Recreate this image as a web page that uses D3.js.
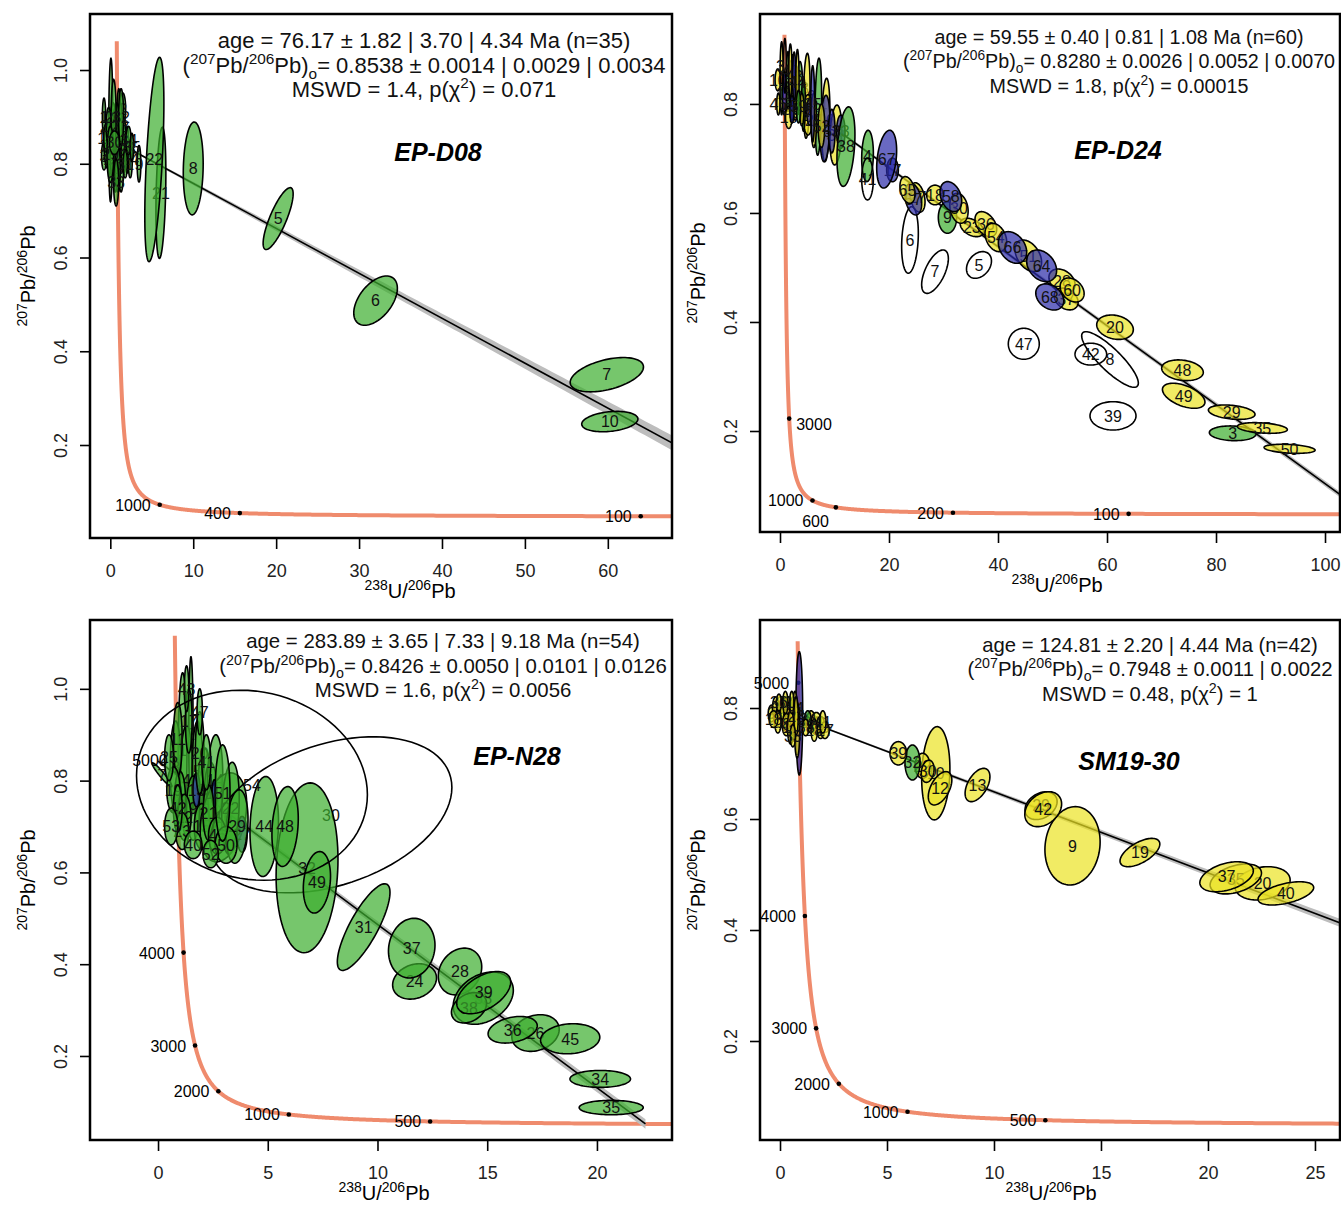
<!DOCTYPE html>
<html>
<head>
<meta charset="utf-8">
<script src="https://cdn.jsdelivr.net/npm/d3@7"></script>
<style>
body { margin: 0; background: #fff; }
svg { font-family: "Liberation Sans", Arial, sans-serif; }
</style>
</head>
<body>
<svg id="chart" width="1341" height="1209"></svg>
<script>
// decay constants (1/yr) and 238U/235U
const lambda238 = 1.55125e-10, lambda235 = 9.8485e-10, u238u235 = 137.818;

// fit results printed in each panel
const sampleNames = ['EP-D08', 'EP-D24', 'EP-N28', 'SM19-30'];
const ages = [76.17, 59.55, 283.89, 124.81];
const ageErrors = [[1.82, 3.70, 4.34], [0.40, 0.81, 1.08], [3.65, 7.33, 9.18], [2.20, 4.44]];
const intercepts = [0.8538, 0.8280, 0.8426, 0.7948];
const interceptErrors = [[0.0014, 0.0029, 0.0034], [0.0026, 0.0052, 0.0070], [0.0050, 0.0101, 0.0126], [0.0011, 0.0022]];
const nSpots = [35, 60, 54, 42];
const mswd = ['1.4', '1.8', '1.6', '0.48'];
const pChi2 = ['0.071', '0.00015', '0.0056', '1'];

// axes
const xDomains = [[-2.45, 67.74], [-3.67, 102.75], [-3.10, 23.42], [-0.935, 26.17]];
const yDomains = [[0.0016, 1.1195], [0.0147, 0.965], [0.0169, 1.150], [0.0216, 0.9586]];
const xTicks = [[0, 10, 20, 30, 40, 50, 60], [0, 20, 40, 60, 80, 100], [0, 5, 10, 15, 20], [0, 5, 10, 15, 20, 25]];
const yTicks = [[0.2, 0.4, 0.6, 0.8, 1.0], [0.2, 0.4, 0.6, 0.8], [0.2, 0.4, 0.6, 0.8, 1.0], [0.2, 0.4, 0.6, 0.8]];

// concordia age marks (Ma), where the label sits, and the oldest age drawn
const markAges = [[1000, 400, 100], [3000, 1000, 600, 200, 100], [5000, 4000, 3000, 2000, 1000, 500], [5000, 4000, 3000, 2000, 1000, 500]];
const markSides = [['l', 'l', 'l'], ['r', 'l', 'b', 'l', 'l'], ['l', 'l', 'l', 'l', 'l', 'l'], ['l', 'l', 'l', 'l', 'l', 'l']];
const concordiaTop = [5320, 5130, 5390, 5120];

// spots: [label, 238U/206Pb, 207Pb/206Pb, s(x), s(y), rho, group]
const d08Spots = [
  ['1', -0.76, 0.90, 0.2, 0.04, 0, 'g'], ['2', 1.5, 0.917, 0.35, 0.034, 0, 'g'],
  ['3', -0.76, 0.817, 0.3, 0.03, 0, 'g'], ['4', 0.05, 0.872, 0.25, 0.153, 0.1, 'g'],
  ['5', 20.24, 0.683, 1.81, 0.066, 0.8, 'g'], ['6', 31.99, 0.508, 2.63, 0.0526, 0.5, 'g'],
  ['7', 59.88, 0.350, 4.42, 0.0366, 0.45, 'g'], ['8', 10.0, 0.790, 1.2, 0.099, 0.1, 'g'],
  ['9', 3.46, 0.80, 0.22, 0.039, 0, 'g'], ['10', 60.24, 0.25, 3.39, 0.0217, 0.25, 'g'],
  ['11', -0.3, 0.84, 0.45, 0.05, 0, 'g'], ['12', 0.3, 0.86, 0.4, 0.07, 0.1, 'g'],
  ['13', 0.6, 0.83, 0.35, 0.09, 0, 'g'], ['14', 1.0, 0.85, 0.3, 0.11, 0.1, 'g'],
  ['15', 1.3, 0.82, 0.35, 0.08, 0, 'g'], ['16', -0.5, 0.855, 0.3, 0.03, 0, 'g'],
  ['17', 0.2, 0.81, 0.5, 0.04, 0, 'g'], ['18', 0.8, 0.87, 0.25, 0.06, 0, 'g'],
  ['19', 0.3, 0.819, 0.3, 0.05, 0, 'g'], ['20', 1.6, 0.84, 0.3, 0.06, 0, 'g'],
  ['21', 6.1, 0.738, 0.6, 0.14, 0.3, 'g'], ['22', 5.31, 0.809, 1.15, 0.218, 0.55, 'g'],
  ['23', 2.0, 0.83, 0.25, 0.05, 0, 'g'], ['24', 2.4, 0.81, 0.25, 0.04, 0, 'g'],
  ['25', -0.2, 0.88, 0.3, 0.04, 0, 'g'], ['26', 0.4, 0.90, 0.3, 0.08, 0, 'g'],
  ['27', 0.9, 0.79, 0.3, 0.05, 0, 'g'], ['28', 1.2, 0.88, 0.25, 0.05, 0, 'g'],
  ['29', 0.0, 0.82, 0.4, 0.06, 0, 'g'], ['30', 0.5, 0.845, 0.6, 0.025, 0, 'g'],
  ['31', 1.8, 0.80, 0.25, 0.03, 0, 'g'], ['32', 1.3, 0.90, 0.3, 0.06, 0, 'g'],
  ['33', 0.7, 0.76, 0.3, 0.05, 0, 'g'], ['34', 2.2, 0.85, 0.3, 0.03, 0, 'g'],
  ['35', 2.6, 0.835, 0.2, 0.03, 0, 'g']
];
const d24Spots = [
  ['1', 0.3, 0.847, 0.3, 0.067, 0, 'y'], ['2', 1.47, 0.841, 0.3, 0.055, 0, 'g'],
  ['3', 83.06, 0.1958, 4.28, 0.0135, -0.1, 'g'], ['4', 16.06, 0.7046, 1.07, 0.047, 0.1, 'g'],
  ['5', 36.51, 0.5046, 2.29, 0.0245, 0.3, 'w'], ['6', 23.85, 0.5505, 1.53, 0.061, 0.2, 'w'],
  ['7', 28.44, 0.4923, 2.45, 0.0398, 0.6, 'w'], ['8', 60.55, 0.3312, 5.2, 0.051, -0.85, 'w'],
  ['9', 30.73, 0.5917, 1.68, 0.029, 0, 'g'], ['10', -0.4, 0.844, 0.5, 0.02, 0, 'y'],
  ['11', 0.8, 0.82, 0.4, 0.04, 0, 'b'], ['12', 2.3, 0.83, 0.35, 0.06, 0, 'y'],
  ['13', 3.67, 0.829, 0.5, 0.049, 0, 'g'], ['14', 2.8, 0.80, 0.45, 0.03, 0, 'y'],
  ['15', 1.6, 0.775, 0.6, 0.02, 0, 'y'], ['16', 4.9, 0.815, 0.61, 0.078, 0.2, 'y'],
  ['17', 20.64, 0.679, 1.07, 0.0217, 0, 'b'], ['18', 28.44, 0.633, 1.53, 0.018, 0, 'y'],
  ['19', 5.14, 0.78, 0.9, 0.037, 0, 'y'], ['20', 61.47, 0.3904, 3.36, 0.0224, -0.2, 'y'],
  ['21', 5.5, 0.786, 0.6, 0.025, 0, 'b'], ['22', 4.3, 0.80, 0.35, 0.05, 0, 'g'],
  ['23', 35.2, 0.5734, 2.14, 0.0169, -0.4, 'y'], ['24', 7.03, 0.795, 0.61, 0.089, 0.2, 'g'],
  ['25', 6.2, 0.77, 0.5, 0.05, 0, 'y'], ['26', 8.4, 0.7706, 0.76, 0.0765, 0.2, 'y'],
  ['27', 25.23, 0.6284, 1.38, 0.027, -0.3, 'y'], ['28', 51.74, 0.4752, 2.4, 0.022, -0.3, 'y'],
  ['29', 82.88, 0.2345, 4.28, 0.0132, -0.3, 'y'], ['30', 32.84, 0.6086, 1.68, 0.0275, -0.2, 'y'],
  ['31', 8.26, 0.755, 0.9, 0.061, 0.2, 'b'], ['32', 10.24, 0.743, 1.07, 0.055, 0.2, 'y'],
  ['33', 11.16, 0.749, 0.77, 0.0306, 0, 'b'], ['34', 0.9, 0.87, 0.25, 0.05, 0, 'w'],
  ['35', 88.5, 0.2055, 4.59, 0.0098, -0.3, 'y'], ['36', 37.77, 0.5794, 1.99, 0.023, -0.4, 'y'],
  ['37', 52.5, 0.4422, 2.2, 0.02, -0.3, 'y'], ['38', 12.1, 0.7217, 1.65, 0.073, 0.3, 'g'],
  ['39', 61.1, 0.2278, 4.22, 0.026, 0, 'w'], ['40', 1.9, 0.86, 0.3, 0.05, 0, 'y'],
  ['41', 16.06, 0.6624, 1.07, 0.0385, 0, 'w'], ['42', 57.03, 0.341, 2.9, 0.02, 0, 'w'],
  ['43', 2.6, 0.85, 0.3, 0.045, 0, 'b'], ['44', 3.2, 0.84, 0.3, 0.06, 0, 'y'],
  ['45', 6.0, 0.80, 0.35, 0.07, 0, 'b'], ['46', -0.3, 0.80, 0.3, 0.02, 0, 'y'],
  ['47', 44.73, 0.36, 2.84, 0.0284, 0, 'w'], ['48', 73.85, 0.3114, 3.82, 0.019, -0.2, 'y'],
  ['49', 74.07, 0.2646, 3.9, 0.023, -0.5, 'y'], ['50', 93.5, 0.1673, 4.68, 0.0083, -0.3, 'y'],
  ['51', 45.56, 0.5215, 2.44, 0.029, -0.4, 'y'], ['52', 7.6, 0.76, 0.6, 0.04, 0, 'y'],
  ['53', 9.5, 0.75, 0.6, 0.04, 0, 'b'], ['54', 39.6, 0.555, 1.99, 0.026, -0.3, 'y'],
  ['55', 4.0, 0.79, 0.4, 0.03, 0, 'y'], ['56', 2.2, 0.79, 0.4, 0.025, 0, 'b'],
  ['57', 24.46, 0.6253, 1.53, 0.029, -0.3, 'b'], ['58', 31.35, 0.630, 1.99, 0.0275, -0.3, 'b'],
  ['59', 3.4, 0.795, 0.4, 0.03, 0, 'g'], ['60', 53.6, 0.4587, 2.2, 0.022, -0.3, 'y'],
  ['64', 48.0, 0.503, 2.75, 0.029, -0.3, 'b'], ['65', 23.39, 0.6422, 1.38, 0.0245, -0.3, 'y'],
  ['66', 42.66, 0.5367, 2.6, 0.029, -0.3, 'b'], ['67', 19.57, 0.6987, 1.83, 0.053, 0.3, 'b'],
  ['68', 49.5, 0.4459, 2.57, 0.024, -0.3, 'b']
];
const n28Spots = [
  ['1', 1.12, 0.867, 0.2, 0.168, 0, 'g'], ['2', 1.5, 0.90, 0.1, 0.17, 0, 'g'],
  ['3', 0.8, 0.83, 0.25, 0.1, 0, 'g'], ['4', 1.3, 0.80, 0.3, 0.12, 0, 'g'],
  ['5', 1.8, 0.82, 0.25, 0.11, 0, 'g'], ['6', 2.1, 0.78, 0.3, 0.09, 0.1, 'g'],
  ['7', 0.18, 0.8126, 0.45, 0.026, -0.95, 'g'], ['8', 1.0, 0.76, 0.25, 0.06, 0, 'g'],
  ['9', 1.6, 0.74, 0.3, 0.07, 0, 'g'], ['10', 2.4, 0.76, 0.3, 0.08, 0, 'g'],
  ['11', 0.9, 0.89, 0.2, 0.08, 0, 'g'], ['12', 1.2, 0.72, 0.3, 0.05, 0, 'g'],
  ['13', 1.75, 0.78, 0.16, 0.037, 0, 'b'], ['14', 2.6, 0.80, 0.35, 0.1, 0.1, 'g'],
  ['15', 2.0, 0.70, 0.35, 0.05, 0, 'g'], ['16', 2.98, 0.72, 1.06, 0.097, 0.3, 'g'],
  ['17', 1.4, 0.93, 0.15, 0.07, 0, 'g'], ['18', 2.57, 0.772, 0.11, 0.03, 0, 'b'],
  ['19', 0.7, 0.78, 0.3, 0.05, 0, 'g'], ['20', 1.9, 0.86, 0.2, 0.09, 0, 'g'],
  ['21', 2.3, 0.73, 0.25, 0.06, 0, 'g'], ['22', 3.3, 0.74, 0.4, 0.1, 0.2, 'g'],
  ['23', 1.1, 0.69, 0.3, 0.04, 0, 'g'], ['24', 11.69, 0.3624, 1.0, 0.0385, 0.2, 'g'],
  ['25', 0.5, 0.85, 0.2, 0.05, 0, 'g'], ['26', 17.2, 0.25, 1.08, 0.04, 0.2, 'g'],
  ['27', 3.83, 0.683, 0.23, 0.039, 0, 'b'], ['28', 13.76, 0.384, 0.99, 0.051, 0.2, 'g'],
  ['29', 3.6, 0.70, 0.5, 0.08, 0.2, 'g'], ['30', 7.88, 0.7255, 5.51, 0.17, 0.35, 'w'],
  ['31', 9.37, 0.4808, 1.2, 0.0944, 0.8, 'g'], ['32', 6.79, 0.61, 1.41, 0.185, 0.1, 'g'],
  ['33', 14.82, 0.326, 1.37, 0.057, 0.3, 'g'], ['34', 20.15, 0.15, 1.38, 0.0185, 0, 'g'],
  ['35', 20.65, 0.0876, 1.46, 0.0157, 0, 'g'], ['36', 16.16, 0.2571, 1.12, 0.029, 0.3, 'g'],
  ['37', 11.56, 0.435, 1.06, 0.065, 0.1, 'g'], ['38', 14.17, 0.305, 0.8, 0.033, 0.3, 'g'],
  ['39', 14.84, 0.338, 1.23, 0.046, 0.5, 'g'], ['40', 1.6, 0.66, 0.4, 0.03, 0, 'g'],
  ['41', 2.2, 0.84, 0.2, 0.06, 0, 'g'], ['42', 0.9, 0.74, 0.2, 0.05, 0, 'g'],
  ['43', 1.3, 1.0, 0.1, 0.05, 0, 'g'], ['44', 4.84, 0.70, 0.65, 0.109, 0.1, 'g'],
  ['45', 18.78, 0.2375, 1.35, 0.0327, 0.1, 'g'], ['46', 2.7, 0.68, 0.4, 0.04, 0, 'g'],
  ['47', 1.9, 0.95, 0.12, 0.05, 0, 'g'], ['48', 5.79, 0.70, 0.6, 0.087, 0.2, 'g'],
  ['49', 7.24, 0.5784, 0.62, 0.067, 0.2, 'g'], ['50', 3.1, 0.66, 0.5, 0.04, 0, 'g'],
  ['51', 2.94, 0.773, 0.34, 0.105, 0, 'g'], ['52', 2.4, 0.64, 0.35, 0.03, 0, 'g'],
  ['53', 0.6, 0.70, 0.3, 0.04, 0, 'g'], ['54', 4.28, 0.79, 5.26, 0.207, -0.1, 'w']
];
const sm1930Spots = [
  ['1', 0.9, 0.7905, 0.16, 0.111, 0, 'b'], ['2', -0.4, 0.79, 0.15, 0.015, 0, 'y'],
  ['3', -0.2, 0.80, 0.15, 0.02, 0, 'y'], ['4', 0.0, 0.785, 0.2, 0.02, 0, 'y'],
  ['5', 0.2, 0.79, 0.15, 0.03, 0, 'y'], ['6', 0.4, 0.795, 0.15, 0.025, 0, 'y'],
  ['7', 0.6, 0.78, 0.15, 0.04, 0, 'y'], ['8', 0.3, 0.77, 0.2, 0.02, 0, 'y'],
  ['9', 13.67, 0.5517, 1.29, 0.0706, 0.1, 'y'], ['10', 7.28, 0.6824, 0.66, 0.084, 0.1, 'y'],
  ['11', -0.1, 0.775, 0.15, 0.02, 0, 'y'], ['12', 7.48, 0.6553, 0.55, 0.03, 0.5, 'y'],
  ['13', 9.23, 0.6613, 0.58, 0.030, 0.5, 'y'], ['14', 0.7, 0.80, 0.1, 0.03, 0, 'y'],
  ['15', 0.1, 0.80, 0.1, 0.02, 0, 'y'], ['16', 0.5, 0.765, 0.15, 0.03, 0, 'y'],
  ['17', 0.8, 0.76, 0.12, 0.05, 0, 'y'], ['18', -0.3, 0.78, 0.2, 0.015, 0, 'y'],
  ['19', 16.82, 0.5396, 0.93, 0.0255, 0.6, 'y'], ['20', 22.55, 0.4841, 1.29, 0.03, 0.2, 'y'],
  ['21', 0.55, 0.81, 0.1, 0.02, 0, 'y'], ['22', 6.66, 0.6959, 0.35, 0.0225, 0, 'y'],
  ['23', 0.75, 0.785, 0.1, 0.035, 0, 'y'], ['24', 1.45, 0.775, 0.2, 0.02, 0, 'y'],
  ['25', 1.7, 0.772, 0.25, 0.02, 0, 'y'], ['26', 1.9, 0.765, 0.2, 0.02, 0, 'y'],
  ['27', 2.1, 0.76, 0.2, 0.015, 0, 'y'], ['28', 1.6, 0.76, 0.15, 0.02, 0, 'y'],
  ['29', 12.2, 0.624, 0.75, 0.025, 0.3, 'y'], ['30', 6.9, 0.686, 0.3, 0.02, 0.2, 'y'],
  ['31', 0.25, 0.81, 0.12, 0.02, 0, 'y'], ['32', 6.19, 0.7018, 0.35, 0.0315, 0, 'g'],
  ['33', 0.6, 0.75, 0.12, 0.02, 0, 'y'], ['34', 1.3, 0.78, 0.15, 0.015, 0, 'g'],
  ['35', 21.3, 0.492, 1.2, 0.027, 0.4, 'y'], ['36', -0.05, 0.81, 0.12, 0.015, 0, 'y'],
  ['37', 20.87, 0.496, 1.25, 0.027, 0.4, 'y'], ['38', 1.2, 0.765, 0.15, 0.015, 0, 'y'],
  ['39', 5.53, 0.7184, 0.39, 0.021, 0, 'y'], ['40', 23.64, 0.466, 1.3, 0.021, 0.5, 'y'],
  ['41', 2.0, 0.775, 0.15, 0.02, 0, 'y'], ['42', 12.3, 0.6177, 0.86, 0.0315, 0.3, 'y']
];
const spotSets = [d08Spots, d24Spots, n28Spots, sm1930Spots];
const fills = { g: '#3cae2e', y: '#ebe322', b: '#2a2aa8', w: 'none' };

// page layout (pixels)
const boxes = [[90, 14, 672, 538], [760, 14, 1340, 532], [90, 620, 672, 1140], [760, 620, 1340, 1140]];
const infoX = [424, 1119, 443, 1150];
const infoSize = [22, 19.7, 20.4, 20.3];
const infoBase = [[48, 73, 97], [44, 68, 93], [648, 673, 697], [652, 676, 701]];
const titlePos = [[438, 161], [1118, 159], [517, 765], [1129, 770]];
const xTitleX = [410, 1057, 384, 1051];

function tw(t) {
  const e8 = Math.exp(lambda238 * t * 1e6) - 1, e5 = Math.exp(lambda235 * t * 1e6) - 1;
  return [1 / e8, e5 / e8 / u238u235];
}

// text with super/subscripts: parts are [string, 'n' | 'sup' | 'sub']
function rich(sel, parts, big, small) {
  let off = 0;
  parts.forEach(([s, k]) => {
    const target = k === 'sup' ? -big * 0.4 : k === 'sub' ? big * 0.25 : 0;
    sel.append('tspan').text(s).attr('font-size', k === 'n' ? big : small).attr('dy', target - off);
    off = target;
  });
}

const svg = d3.select('#chart');
const defs = svg.append('defs');

boxes.forEach((b, i) => {
  const [l, t, r, btm] = b;
  const x = d3.scaleLinear().domain(xDomains[i]).range([l, r]);
  const y = d3.scaleLinear().domain(yDomains[i]).range([btm, t]);
  const g = svg.append('g');

  defs.append('clipPath').attr('id', 'clip' + i)
    .append('rect').attr('x', l).attr('y', t).attr('width', r - l).attr('height', btm - t);
  const plot = g.append('g').attr('clip-path', `url(#clip${i})`);

  // concordia
  const tStart = Math.log(1 + 1 / xDomains[i][1]) / lambda238 / 1e6 * 0.97;
  const tAges = d3.range(500).map(k => tStart * Math.pow(concordiaTop[i] / tStart, k / 499));
  plot.append('path')
    .attr('d', d3.line().x(d => x(tw(d)[0])).y(d => y(tw(d)[1]))(tAges))
    .attr('fill', 'none').attr('stroke', '#ef8b6d').attr('stroke-width', 4);

  // regression envelope and line
  const a = ages[i], s = ageErrors[i][0], y0 = intercepts[i], s0 = interceptErrors[i][0];
  const anchor = tw(a);
  const combos = [];
  [a - s, a + s].forEach(aa => [y0 - s0, y0 + s0].forEach(yy => combos.push([tw(aa), yy])));
  const xs = d3.range(121).map(k => anchor[0] * k / 120);
  const lineY = (p, yy, xv) => yy + (p[1] - yy) * xv / p[0];
  plot.append('path')
    .attr('d', d3.area()
      .x(d => x(d))
      .y0(d => y(d3.min(combos, c => lineY(c[0], c[1], d))))
      .y1(d => y(d3.max(combos, c => lineY(c[0], c[1], d))))(xs))
    .attr('fill', '#bdbdbd');
  plot.append('line')
    .attr('x1', x(0)).attr('y1', y(y0)).attr('x2', x(anchor[0])).attr('y2', y(anchor[1]))
    .attr('stroke', '#000').attr('stroke-width', 1.6);

  // concordia age marks
  markAges[i].forEach((m, k) => {
    const p = tw(m), px = x(p[0]), py = y(p[1]);
    plot.append('circle').attr('cx', px).attr('cy', py).attr('r', 2.3).attr('fill', '#000');
    const side = markSides[i][k];
    g.append('text').text(m).attr('font-size', 16)
      .attr('text-anchor', side === 'r' ? 'start' : 'end')
      .attr('x', side === 'r' ? px + 7 : side === 'b' ? px - 7 : px - 9)
      .attr('y', side === 'r' ? py + 11 : side === 'b' ? py + 20 : py + 6);
  });

  // spots
  const ell = d3.line().curve(d3.curveLinearClosed);
  spotSets[i].forEach(([lab, cx, cy, sx, sy, rho, grp]) => {
    const k = Math.sqrt(1 - rho * rho);
    const pts = d3.range(90).map(j => {
      const th = j / 90 * 2 * Math.PI;
      return [x(cx + sx * Math.cos(th)), y(cy + sy * (rho * Math.cos(th) + k * Math.sin(th)))];
    });
    plot.append('path').attr('d', ell(pts))
      .attr('fill', fills[grp]).attr('fill-opacity', 0.7)
      .attr('stroke', '#000').attr('stroke-width', 1.6);
    plot.append('text').text(lab).attr('x', x(cx)).attr('y', y(cy)).attr('dy', '0.36em')
      .attr('text-anchor', 'middle').attr('font-size', 16).attr('fill', '#111');
  });

  // box
  g.append('rect').attr('x', l).attr('y', t).attr('width', r - l).attr('height', btm - t)
    .attr('fill', 'none').attr('stroke', '#000').attr('stroke-width', 2.5);

  // axes
  const ax = g.append('g').attr('transform', `translate(0,${btm + 1})`)
    .call(d3.axisBottom(x).tickValues(xTicks[i]).tickSize(10).tickPadding(15).tickFormat(d3.format('d')));
  ax.select('.domain').remove();
  ax.selectAll('line').attr('stroke-width', 1.6);
  ax.selectAll('text').attr('font-size', 18).attr('font-family', null).attr('fill', '#222');

  const ay = g.append('g').attr('transform', `translate(${l - 1},0)`)
    .call(d3.axisLeft(y).tickValues(yTicks[i]).tickSize(9).tickFormat(d3.format('.1f')));
  ay.select('.domain').remove();
  ay.selectAll('line').attr('stroke-width', 1.6);
  ay.selectAll('text').attr('font-size', 18).attr('font-family', null).attr('fill', '#222')
    .attr('transform', 'rotate(-90)').attr('x', 0).attr('y', -22).attr('dy', 0)
    .attr('text-anchor', 'middle');

  // axis titles
  rich(g.append('text').attr('x', xTitleX[i]).attr('y', btm + 60).attr('text-anchor', 'middle'),
    [['238', 'sup'], ['U/', 'n'], ['206', 'sup'], ['Pb', 'n']], 20, 14);
  rich(g.append('text').attr('transform', `translate(${l - 55},${(t + btm) / 2}) rotate(-90)`)
    .attr('text-anchor', 'middle'),
    [['207', 'sup'], ['Pb/', 'n'], ['206', 'sup'], ['Pb', 'n']], 20, 14);

  // fit summary
  const fs = infoSize[i], sm = fs * 0.7;
  const ageLine = `age = ${ages[i].toFixed(2)} \u00b1 ${ageErrors[i].map(e => e.toFixed(2)).join(' | ')} Ma (n=${nSpots[i]})`;
  g.append('text').attr('x', infoX[i]).attr('y', infoBase[i][0]).attr('text-anchor', 'middle')
    .attr('font-size', fs).attr('fill', '#111').text(ageLine);
  rich(g.append('text').attr('x', infoX[i]).attr('y', infoBase[i][1]).attr('text-anchor', 'middle').attr('fill', '#111'),
    [['(', 'n'], ['207', 'sup'], ['Pb/', 'n'], ['206', 'sup'], ['Pb)', 'n'], ['o', 'sub'],
     [`= ${intercepts[i].toFixed(4)} \u00b1 ${interceptErrors[i].map(e => e.toFixed(4)).join(' | ')}`, 'n']], fs, sm);
  rich(g.append('text').attr('x', infoX[i]).attr('y', infoBase[i][2]).attr('text-anchor', 'middle').attr('fill', '#111'),
    [[`MSWD = ${mswd[i]}, p(\u03c7`, 'n'], ['2', 'sup'], [`) = ${pChi2[i]}`, 'n']], fs, sm);

  g.append('text').attr('x', titlePos[i][0]).attr('y', titlePos[i][1]).attr('text-anchor', 'middle')
    .attr('font-size', 25).attr('font-weight', 'bold').attr('font-style', 'italic').text(sampleNames[i]);
});
</script>
</body>
</html>
